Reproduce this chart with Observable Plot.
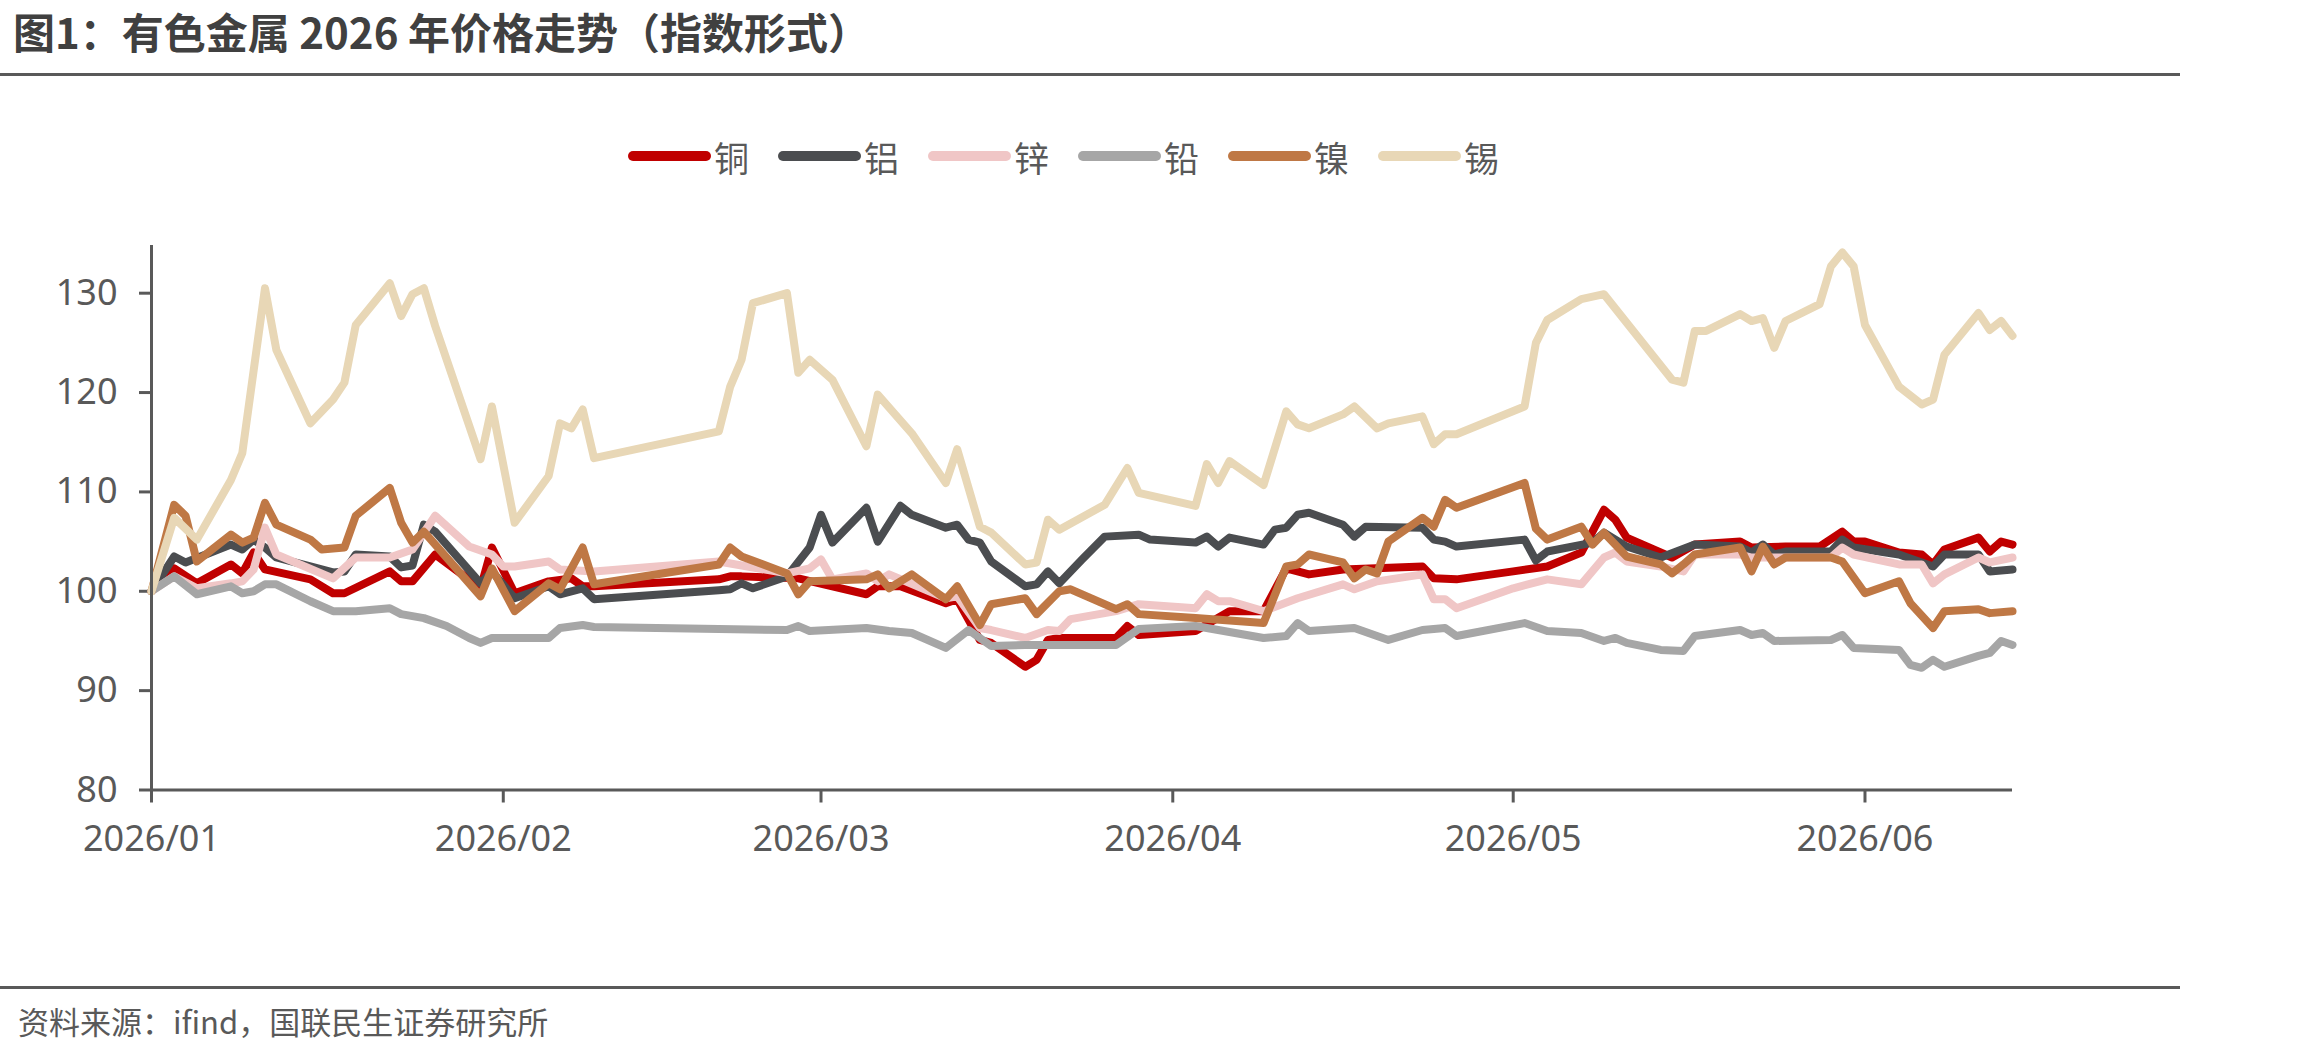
<!DOCTYPE html>
<html>
<head>
<meta charset="utf-8">
<script src="https://cdn.jsdelivr.net/npm/d3@7"></script>
<script src="https://cdn.jsdelivr.net/npm/@observablehq/plot@0.6"></script>
<style>
  html, body { margin: 0; padding: 0; background: #fff; }
  #page { position: relative; width: 2310px; height: 1051px; overflow: hidden; background: #fff; }
  #title { position: absolute; left: 13px; top: 0px; font-family: "Noto Sans CJK SC", sans-serif; font-weight: 700; font-size: 42px; line-height: 61px; color: #404040; white-space: nowrap; }
  .rule { position: absolute; left: 0; width: 2180px; height: 3px; background: #595959; }
  #legend { position: absolute; left: 628px; top: 134px; display: flex; align-items: center; height: 44px; font-family: "Noto Sans CJK SC", sans-serif; font-size: 35px; color: #595959; }
  .item { display: flex; align-items: center; margin-right: 29px; }
  .sw { width: 83px; height: 10px; border-radius: 5px; margin-right: 3px; }
  #chart { position: absolute; left: 0; top: 200px; }
  #source { position: absolute; left: 18px; top: 998px; font-family: "Noto Sans CJK SC", sans-serif; font-size: 31px; line-height: 45px; color: #595959; white-space: nowrap; }
</style>
</head>
<body>
<div id="page">
  <div id="title">图1：有色金属 2026 年价格走势（指数形式）</div>
  <div class="rule" style="top:73px"></div>
  <div id="legend"></div>
  <div id="chart"></div>
  <div class="rule" style="top:986px"></div>
  <div id="source">资料来源：ifind，国联民生证券研究所</div>
</div>
<script>
// ---- Data (index, 2026-01-01 = 100) ----
const metals = ["铜", "铝", "锌", "铅", "镍", "锡"];
const colors = ["#C00000", "#4B4D50", "#F0C6C6", "#A6A6A6", "#BF7845", "#E8D7B6"];
const yTicks = [80, 90, 100, 110, 120, 130];
const yDomain = [80, 134.8];
const xDomain = ["2026-01-01", "2026-06-14"];
const xTicks = ["2026-01-01", "2026-02-01", "2026-03-01", "2026-04-01", "2026-05-01", "2026-06-01"];
const xTickLabels = ["2026/01", "2026/02", "2026/03", "2026/04", "2026/05", "2026/06"];

const copper = [["01-01",100],["01-03",102.3],["01-05",100.8],["01-08",102.7],["01-09",101.8],["01-10",103.9],["01-11",102.2],["01-15",101.2],["01-17",99.8],["01-18",99.8],["01-22",102],["01-23",101],["01-24",101],["01-26",103.7],["01-30",100.3],["01-31",104.4],["02-02",99.8],["02-05",101],["02-07",101.3],["02-08",100.5],["02-09",100.5],["02-20",101.2],["02-21",101.5],["02-22",101.5],["02-27",101.3],["03-02",100.5],["03-05",99.7],["03-06",100.5],["03-08",100.5],["03-12",98.8],["03-13",99.2],["03-15",95.1],["03-16",94.8],["03-19",92.4],["03-20",93.1],["03-21",95.1],["03-22",95.3],["03-27",95.3],["03-28",96.5],["03-29",95.6],["04-03",96],["04-06",98],["04-09",98],["04-11",102.3],["04-13",101.7],["04-16",102.2],["04-23",102.5],["04-24",101.3],["04-26",101.2],["05-01",102],["05-04",102.5],["05-07",103.9],["05-09",108.2],["05-10",107.2],["05-11",105.4],["05-15",103.4],["05-17",104.7],["05-21",105],["05-22",104.4],["05-25",104.5],["05-28",104.5],["05-30",106],["05-31",105],["06-01",105],["06-04",103.9],["06-06",103.7],["06-07",102.7],["06-08",104.2],["06-11",105.4],["06-12",104],["06-13",105],["06-14",104.7]];

const aluminium = [["01-01",100],["01-03",103.5],["01-04",102.9],["01-08",104.7],["01-09",104.2],["01-10",105.2],["01-11",104.4],["01-12",103.4],["01-15",102.5],["01-17",101.9],["01-18",102],["01-19",103.7],["01-22",103.5],["01-23",102.4],["01-24",102.6],["01-25",106.7],["01-26",106],["01-30",100.8],["01-31",102],["02-02",99.3],["02-05",100.5],["02-06",99.7],["02-08",100.3],["02-09",99.2],["02-20",100.1],["02-21",100.2],["02-22",100.8],["02-23",100.3],["02-26",101.5],["02-28",104.4],["03-01",107.7],["03-02",104.9],["03-05",108.4],["03-06",105],["03-08",108.6],["03-09",107.7],["03-12",106.4],["03-13",106.7],["03-14",105.2],["03-15",104.9],["03-16",103],["03-19",100.5],["03-20",100.7],["03-21",102],["03-22",100.8],["03-24",103.2],["03-26",105.5],["03-29",105.7],["03-30",105.2],["04-03",104.9],["04-04",105.5],["04-05",104.5],["04-06",105.4],["04-09",104.7],["04-10",106.2],["04-11",106.4],["04-12",107.7],["04-13",107.9],["04-16",106.7],["04-17",105.5],["04-18",106.5],["04-23",106.4],["04-24",105.2],["04-25",105],["04-26",104.5],["05-02",105.2],["05-03",103.1],["05-04",104],["05-08",104.9],["05-09",105.9],["05-11",104.5],["05-14",103.4],["05-17",104.7],["05-21",104.5],["05-22",103.9],["05-23",104.7],["05-24",103.7],["05-25",104],["05-29",104],["05-30",105.2],["05-31",104.4],["06-04",103.7],["06-06",102.9],["06-07",102.5],["06-08",103.7],["06-11",103.7],["06-12",102],["06-14",102.2]];

const zinc = [["01-01",100],["01-03",101.5],["01-05",100.3],["01-08",100.8],["01-09",101],["01-10",102.2],["01-11",106.4],["01-12",103.7],["01-17",101.3],["01-19",103.4],["01-22",103.4],["01-24",104.2],["01-26",107.6],["01-29",104.5],["01-31",103.7],["02-01",102.5],["02-02",102.5],["02-05",103],["02-06",102.2],["02-09",102],["02-20",103],["02-26",101.8],["02-28",102.3],["03-01",103.2],["03-02",101.2],["03-05",101.8],["03-06",101],["03-07",101.7],["03-12",99.3],["03-13",99.5],["03-15",96.3],["03-16",96.1],["03-19",95.3],["03-21",96.1],["03-22",96],["03-23",97.2],["03-27",98],["03-29",98.7],["04-03",98.3],["04-04",99.7],["04-05",99],["04-06",99],["04-09",98],["04-12",99.3],["04-16",100.7],["04-17",100.2],["04-19",101],["04-23",101.7],["04-24",99.2],["04-25",99.2],["04-26",98.3],["05-01",100.3],["05-04",101.2],["05-07",100.7],["05-09",103.4],["05-10",103.9],["05-11",103],["05-14",102.5],["05-16",102],["05-17",103.7],["05-21",103.7],["05-22",103.4],["05-25",103.4],["05-29",103.4],["05-30",104.4],["05-31",103.7],["06-04",102.7],["06-06",102.7],["06-07",100.8],["06-08",101.7],["06-11",103.4],["06-12",102.9],["06-14",103.4]];

const lead = [["01-01",100],["01-03",101.5],["01-05",99.7],["01-08",100.5],["01-09",99.8],["01-10",100],["01-11",100.7],["01-12",100.7],["01-15",99],["01-17",98],["01-19",98],["01-22",98.3],["01-23",97.7],["01-25",97.3],["01-27",96.5],["01-29",95.3],["01-30",94.8],["01-31",95.3],["02-05",95.3],["02-06",96.3],["02-08",96.6],["02-09",96.4],["02-20",96.2],["02-26",96.1],["02-27",96.5],["02-28",96],["03-05",96.3],["03-07",96],["03-09",95.8],["03-12",94.3],["03-14",96.1],["03-16",94.5],["03-19",94.6],["03-27",94.6],["03-29",96.2],["04-03",96.5],["04-09",95.3],["04-11",95.5],["04-12",96.8],["04-13",96],["04-17",96.3],["04-20",95.1],["04-23",96.1],["04-25",96.3],["04-26",95.5],["05-02",96.8],["05-04",96],["05-07",95.8],["05-09",95],["05-10",95.3],["05-11",94.8],["05-14",94.1],["05-16",94],["05-17",95.5],["05-21",96.1],["05-22",95.6],["05-23",95.8],["05-24",95],["05-29",95.1],["05-30",95.6],["05-31",94.3],["06-04",94.1],["06-05",92.6],["06-06",92.3],["06-07",93.1],["06-08",92.4],["06-11",93.5],["06-12",93.8],["06-13",95],["06-14",94.6]];

const nickel = [["01-01",100],["01-03",108.7],["01-04",107.6],["01-05",103],["01-08",105.7],["01-09",104.9],["01-10",105.4],["01-11",108.9],["01-12",106.7],["01-14",105.7],["01-15",105.2],["01-16",104.2],["01-18",104.4],["01-19",107.6],["01-22",110.4],["01-23",106.9],["01-24",104.9],["01-25",106],["01-30",99.5],["01-31",102.3],["02-02",98],["02-05",100.8],["02-06",100.2],["02-08",104.4],["02-09",100.7],["02-20",102.7],["02-21",104.4],["02-22",103.5],["02-26",101.8],["02-27",99.7],["02-28",101],["03-05",101.2],["03-06",101.7],["03-07",100.3],["03-09",101.7],["03-12",99.2],["03-13",100.5],["03-15",96.6],["03-16",98.7],["03-19",99.3],["03-20",97.7],["03-22",100],["03-23",100.2],["03-27",98.2],["03-28",98.7],["03-29",97.7],["04-03",97.3],["04-09",96.8],["04-11",102.5],["04-12",102.7],["04-13",103.7],["04-16",102.9],["04-17",101.3],["04-18",102.2],["04-19",101.8],["04-20",105],["04-23",107.4],["04-24",106.5],["04-25",109.2],["04-26",108.4],["05-02",110.9],["05-03",106.3],["05-04",105.2],["05-07",106.5],["05-08",104.7],["05-09",105.9],["05-11",103.5],["05-14",102.7],["05-15",101.8],["05-16",102.7],["05-17",103.7],["05-21",104.4],["05-22",102],["05-23",104.5],["05-24",102.7],["05-25",103.4],["05-29",103.4],["05-30",103],["06-01",99.8],["06-04",101],["06-05",98.8],["06-07",96.3],["06-08",98],["06-11",98.2],["06-12",97.8],["06-14",98]];

const tin = [["01-01",100],["01-03",107.4],["01-05",105.2],["01-08",111.2],["01-09",113.9],["01-11",130.5],["01-12",124.3],["01-15",116.9],["01-17",119.3],["01-18",121],["01-19",126.8],["01-22",131],["01-23",127.7],["01-24",129.9],["01-25",130.5],["01-26",126.7],["01-30",113.3],["01-31",118.6],["02-02",106.9],["02-05",111.6],["02-06",116.9],["02-07",116.4],["02-08",118.3],["02-09",113.4],["02-20",116.1],["02-21",120.6],["02-22",123.3],["02-23",129],["02-26",130],["02-27",122],["02-28",123.3],["03-02",121.3],["03-05",114.6],["03-06",119.8],["03-09",115.9],["03-12",110.9],["03-13",114.3],["03-15",106.5],["03-16",105.9],["03-19",102.7],["03-20",102.9],["03-21",107.2],["03-22",106.2],["03-26",108.7],["03-28",112.4],["03-29",109.9],["04-03",108.6],["04-04",112.8],["04-05",110.9],["04-06",113.1],["04-09",110.7],["04-11",118.1],["04-12",116.8],["04-13",116.4],["04-16",117.8],["04-17",118.6],["04-19",116.4],["04-20",116.9],["04-23",117.6],["04-24",114.8],["04-25",115.8],["04-26",115.8],["05-02",118.6],["05-03",125],["05-04",127.3],["05-07",129.4],["05-09",129.9],["05-15",121.3],["05-16",121],["05-17",126.2],["05-18",126.2],["05-21",127.9],["05-22",127.2],["05-23",127.5],["05-24",124.5],["05-25",127.2],["05-28",128.9],["05-29",132.7],["05-30",134.1],["05-31",132.7],["06-01",126.8],["06-04",120.6],["06-06",118.8],["06-07",119.3],["06-08",123.8],["06-11",128],["06-12",126.3],["06-13",127.2],["06-14",125.7]];

const seriesValues = [copper, aluminium, zinc, lead, nickel, tin];

// ---- Build ----
const parse = d3.utcParse("%Y-%m-%d");
const rows = seriesValues.map((arr, i) =>
  arr.map(([md, v]) => ({ metal: metals[i], date: parse("2026-" + md), value: v }))
);

// legend
const legend = document.getElementById("legend");
metals.forEach((m, i) => {
  const it = document.createElement("div");
  it.className = "item";
  const sw = document.createElement("div");
  sw.className = "sw";
  sw.style.background = colors[i];
  const lb = document.createElement("span");
  lb.textContent = m;
  it.appendChild(sw);
  it.appendChild(lb);
  legend.appendChild(it);
});

const axisColor = "#595959";
const tickDates = xTicks.map(parse);

const plot = Plot.plot({
  width: 2310,
  height: 700,
  marginLeft: 151,
  marginRight: 298,
  marginTop: 45,
  marginBottom: 110.5,
  style: { fontFamily: "'Noto Sans', sans-serif", fontSize: "36px", color: axisColor, background: "transparent" },
  x: { type: "utc", domain: xDomain.map(parse) },
  y: { domain: yDomain },
  marks: [
    Plot.axisY({ ticks: yTicks, tickSize: 12, tickPadding: 22, strokeWidth: 3, label: null }),
    Plot.axisX({ ticks: tickDates, tickFormat: (d) => xTickLabels[tickDates.findIndex(t => +t === +d)], tickSize: 13, tickPadding: 22, strokeWidth: 3, label: null }),
    ...rows.map((r, i) => Plot.line(r, {
      x: "date", y: "value", stroke: colors[i], strokeWidth: 8,
      strokeLinejoin: "round", strokeLinecap: "round"
    })),
    Plot.ruleY([yDomain[0]], { stroke: axisColor, strokeWidth: 3 }),
    Plot.ruleX([parse(xDomain[0])], { stroke: axisColor, strokeWidth: 3 })
  ]
});
document.getElementById("chart").appendChild(plot);
</script>
</body>
</html>
